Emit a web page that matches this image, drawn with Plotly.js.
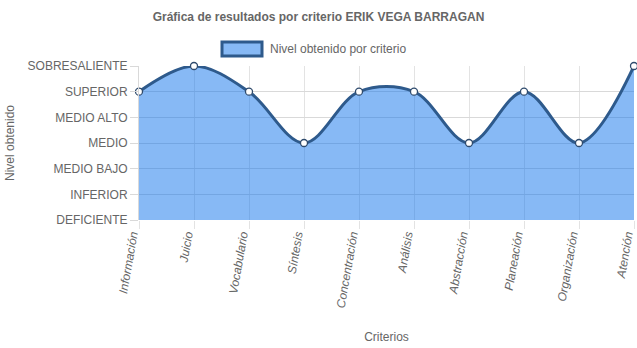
<!DOCTYPE html>
<html>
<head>
<meta charset="utf-8">
<script src="https://cdn.plot.ly/plotly-3.0.1.min.js"></script>
<style>html,body{margin:0;padding:0;background:#fff;}#chart{width:637px;height:348px;}</style>
</head>
<body>
<div id="chart"></div>
<script>
const criterios = ["Información","Juicio","Vocabulario","Síntesis","Concentración","Análisis","Abstracción","Planeación","Organización","Atención"];
const niveles = [5,6,5,3,5,5,3,5,3,6];
const nivelLabels = ["DEFICIENTE","INFERIOR","MEDIO BAJO","MEDIO","MEDIO ALTO","SUPERIOR","SOBRESALIENTE"];
const serieNombre = "Nivel obtenido por criterio";

const FONT = "Liberation Sans, Arial, sans-serif";
const trace = {
  x: criterios.map((c,i)=>i),
  y: niveles,
  type: "scatter",
  mode: "lines+markers",
  name: serieNombre,
  fill: "tozeroy",
  fillcolor: "rgba(15,115,235,0.5)",
  line: {shape: "spline", smoothing: 1, color: "#2e5a8c", width: 3},
  marker: {size: 7, color: "#ffffff", line: {color: "#2e4a6c", width: 1.3}},
  cliponaxis: false,
  showlegend: false,
  hoverinfo: "skip"
};
const ph = 154, pw = 495;
const layout = {
  width: 637, height: 348,
  margin: {l: 139, r: 3, t: 66, b: 128},
  paper_bgcolor: "#fff", plot_bgcolor: "#fff",
  font: {family: FONT, color: "#666", size: 12},
  title: {text: "<b>Gráfica de resultados por criterio ERIK VEGA BARRAGAN</b>", x: 0.5, xanchor: "center", y: 0.953, yanchor: "middle", font: {family: FONT, size: 12, color: "#666"}},
  xaxis: {
    range: [0, criterios.length-1],
    tickvals: criterios.map((c,i)=>i),
    ticktext: criterios,
    tickangle: -80,
    ticklabeloverflow: "allow",
    ticklabelstandoff: -6,
    ticklabelshift: -7,
    tickfont: {family: FONT, size: 12, color: "#666", style: "italic"},
    showgrid: true, gridcolor: "#e3e3e3", gridwidth: 1,
    ticks: "outside", ticklen: 8, tickcolor: "#e3e3e3",
    zeroline: false, showline: false,
    title: {text: "Criterios", font: {family: FONT, size: 12, color: "#666"}, standoff: 24},
    fixedrange: true
  },
  yaxis: {
    range: [0, nivelLabels.length-1],
    tickvals: nivelLabels.map((c,i)=>i),
    ticktext: nivelLabels,
    tickfont: {family: FONT, size: 12, color: "#666"},
    showgrid: true, gridcolor: "#d9d9d9", gridwidth: 1,
    ticks: "outside", ticklen: 8, tickcolor: "#d9d9d9",
    zeroline: false, showline: true, linecolor: "#d9d9d9",
    title: {text: "Nivel obtenido", font: {family: FONT, size: 12, color: "#666"}, standoff: 10},
    fixedrange: true
  },
  shapes: [{type: "rect", xref: "paper", yref: "paper",
    x0: (222-139)/pw, x1: (262-139)/pw,
    y0: 1 + (66-56)/ph, y1: 1 + (66-42)/ph,
    fillcolor: "rgba(15,115,235,0.5)", line: {color: "#2e5a8c", width: 3}}],
  annotations: [
    {xref: "paper", yref: "paper", x: (268-139)/pw, y: 1 + (66-49)/ph, xanchor: "left", yanchor: "middle", showarrow: false, text: serieNombre, font: {family: FONT, size: 12, color: "#666"}}
  ]
};
Plotly.newPlot("chart", [trace], layout, {displayModeBar: false, staticPlot: true});
</script>
</body>
</html>
